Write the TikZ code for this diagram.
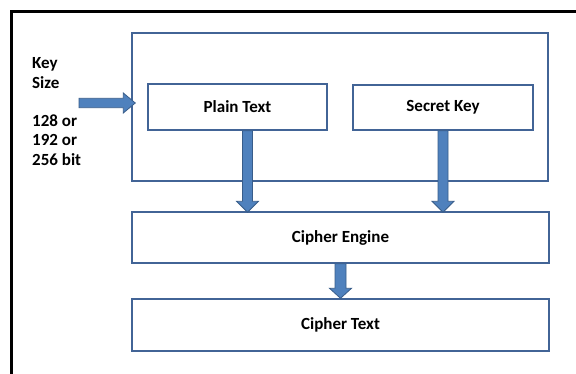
\documentclass[tikz,border=0pt]{standalone}
\usepackage{fontspec}
\setmainfont{Carlito}
\usetikzlibrary{calc}
\definecolor{boxline}{RGB}{66,100,150}
\definecolor{arrfill}{RGB}{79,129,189}
\definecolor{arrline}{RGB}{56,93,138}
\tikzset{
  box/.style={draw=boxline,line width=1.4pt,fill=white,inner sep=0pt,font=\bfseries\fontsize{17}{19}\selectfont},
  blockarr/.style={fill=arrfill,draw=arrline,line width=0.8pt,line join=miter},
  lbl/.style={font=\bfseries\fontsize{17}{19.3}\selectfont,align=left,inner sep=0pt,anchor=north west}
}
\begin{document}
\begin{tikzpicture}[x=1pt,y=-1pt]
\useasboundingbox (0,0) rectangle (576,374);
\fill[white] (0,0) rectangle (576,374);
% frame
\draw[black,line width=2.3pt] (11.5,380) -- (11.5,11.5) -- (580,11.5);
% boxes
\node[box,minimum width=416pt,minimum height=148pt] (outer) at (340,107) {};
\node[box,minimum width=179pt,minimum height=46pt] (pt) at (237.5,107) {Plain Text};
\node[box,minimum width=180pt,minimum height=45pt] (sk) at (443,107.5) {Secret Key};
\node[box,minimum width=417pt,minimum height=51pt] (ce) at (340.5,237.5) {Cipher Engine};
\node[box,minimum width=417pt,minimum height=52pt] (ct) at (340.5,325) {Cipher Text};
% label
\node[lbl] (keysize) at (32,57.5) {Key\\Size\\[19.3pt]128 or\\192 or\\256 bit};
% key-size arrow
\coordinate (ks) at (79,103);
\draw[blockarr] ($(ks)+(0,-4.7)$) -- ($(ks -| outer.west)+(-8,-4.7)$) -- ($(ks -| outer.west)+(-8,-10)$)
  -- ($(ks -| outer.west)+(4,0)$) -- ($(ks -| outer.west)+(-8,10)$) -- ($(ks -| outer.west)+(-8,4.7)$)
  -- ($(ks)+(0,4.7)$) -- cycle;
% plain text -> engine
\coordinate (a1) at ($(pt.south)+(10,0)$);
\draw[blockarr] ($(a1)+(-5,0)$) -- ($(a1 |- ce.north)+(-5,-10)$) -- ($(a1 |- ce.north)+(-11,-10)$)
  -- ($(a1 |- ce.north)+(0,1)$) -- ($(a1 |- ce.north)+(11,-10)$) -- ($(a1 |- ce.north)+(5,-10)$)
  -- ($(a1)+(5,0)$) -- cycle;
% secret key -> engine
\draw[blockarr] ($(sk.south)+(-5,0)$) -- ($(sk.south |- ce.north)+(-5,-10)$) -- ($(sk.south |- ce.north)+(-11,-10)$)
  -- ($(sk.south |- ce.north)+(0,1)$) -- ($(sk.south |- ce.north)+(11,-10)$) -- ($(sk.south |- ce.north)+(5,-10)$)
  -- ($(sk.south)+(5,0)$) -- cycle;
% engine -> cipher text
\draw[blockarr] ($(ce.south)+(-5.5,0)$) -- ($(ct.north)+(-5.5,-10)$) -- ($(ct.north)+(-11,-10)$)
  -- ($(ct.north)+(0,0)$) -- ($(ct.north)+(11,-10)$) -- ($(ct.north)+(5.5,-10)$)
  -- ($(ce.south)+(5.5,0)$) -- cycle;
\end{tikzpicture}
\end{document}
